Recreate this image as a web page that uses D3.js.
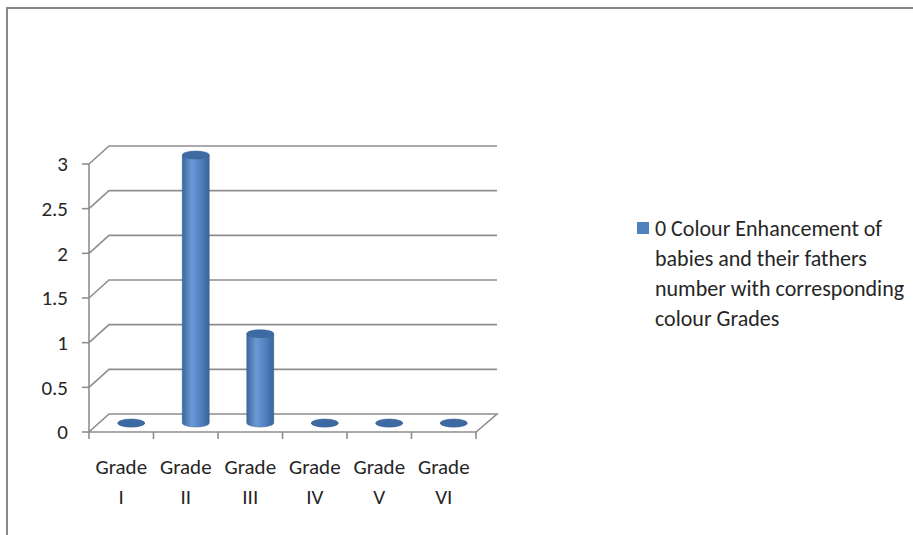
<!DOCTYPE html>
<html>
<head>
<meta charset="utf-8">
<script src="https://cdn.jsdelivr.net/npm/d3@7"></script>
<style>
	body { margin: 0; background: #fff; }
	svg text { font-family: Carlito, "Liberation Sans Narrow", "DejaVu Sans Condensed", sans-serif; fill: #262626; }
</style>
</head>
<body>
<svg width="913" height="535"></svg>
<script>
var grades = ["I", "II", "III", "IV", "V", "VI"]
var values = [0, 3, 1, 0, 0, 0]
var yTicks = [0, 0.5, 1, 1.5, 2, 2.5, 3]
var seriesName = "0 Colour Enhancement of babies and their fathers number with corresponding colour Grades"
var legendLines = ["0 Colour Enhancement of", "babies and their fathers", "number with corresponding", "colour Grades"]

var svg = d3.select("svg")
var depthX = 20, depthY = -18
var gridColor = "#8e8e8e"

// chart frame (only top and left edges show)
svg.append("path")
	.attr("d", "M7,535 L7,8 L913,8")
	.attr("fill", "none")
	.attr("stroke", "#888")
	.attr("stroke-width", 2)

var x = d3.scaleBand()
	.domain(grades)
	.range([89, 476])

var y = d3.scaleLinear()
	.domain([0, 3])
	.range([432, 164])

var defs = svg.append("defs")
var grad = defs.append("linearGradient")
	.attr("id", "cyl")
	.attr("x1", "0%").attr("x2", "100%")
grad.append("stop").attr("offset", "0%").attr("stop-color", "#3b679d")
grad.append("stop").attr("offset", "35%").attr("stop-color", "#6a9ad6")
grad.append("stop").attr("offset", "70%").attr("stop-color", "#4f80bf")
grad.append("stop").attr("offset", "100%").attr("stop-color", "#3a6397")

// back gridlines with side connectors
var grid = svg.append("g").attr("class", "grid")
grid.selectAll("path")
	.data(yTicks.filter(function(t) { return t > 0 }))
	.enter()
	.append("path")
	.attr("d", function(t) {
		var yy = y(t)
		return "M" + x.range()[0] + "," + yy +
			" L" + (x.range()[0] + depthX) + "," + (yy + depthY) +
			" L" + (x.range()[1] + depthX + 1) + "," + (yy + depthY)
	})
	.attr("fill", "none")
	.attr("stroke", gridColor)
	.attr("stroke-width", 1.6)

// floor
var x0 = x.range()[0], x1 = x.range()[1], y0 = y(0)
grid.append("path")
	.attr("d", "M" + x0 + "," + y0 + " L" + x1 + "," + y0 +
		" L" + (x1 + depthX + 1) + "," + (y0 + depthY) +
		" L" + (x0 + depthX) + "," + (y0 + depthY) + " Z")
	.attr("fill", "#fff")
	.attr("stroke", gridColor)
	.attr("stroke-width", 1.6)

// y axis
var yAxis = svg.append("g")
yAxis.append("line")
	.attr("x1", x0).attr("x2", x0)
	.attr("y1", y(3)).attr("y2", y0)
	.attr("stroke", gridColor).attr("stroke-width", 1.6)
yAxis.selectAll("line.tick")
	.data(yTicks)
	.enter()
	.append("line")
	.attr("class", "tick")
	.attr("x1", x0 - 7).attr("x2", x0)
	.attr("y1", function(t) { return y(t) })
	.attr("y2", function(t) { return y(t) })
	.attr("stroke", gridColor).attr("stroke-width", 1.6)
yAxis.selectAll("text")
	.data(yTicks)
	.enter()
	.append("text")
	.attr("x", x0 - 21)
	.attr("y", function(t) { return y(t) })
	.attr("dy", "0.35em")
	.attr("text-anchor", "end")
	.attr("font-size", 21)
	.text(function(t) { return t })

// x axis ticks and labels
var xAxis = svg.append("g")
xAxis.selectAll("line")
	.data(grades.concat(["end"]))
	.enter()
	.append("line")
	.attr("x1", function(g, i) { return x0 + i * x.bandwidth() })
	.attr("x2", function(g, i) { return x0 + i * x.bandwidth() })
	.attr("y1", y0).attr("y2", y0 + 7)
	.attr("stroke", gridColor).attr("stroke-width", 1.6)
var labels = xAxis.selectAll("text")
	.data(grades)
	.enter()
	.append("text")
	.attr("text-anchor", "middle")
	.attr("font-size", 21)
labels.append("tspan")
	.attr("x", function(g) { return x(g) + x.bandwidth() / 2 })
	.attr("y", 474)
	.text("Grade")
labels.append("tspan")
	.attr("x", function(g) { return x(g) + x.bandwidth() / 2 })
	.attr("y", 504)
	.text(function(g) { return g })

// cylinders
var rx = 13.5, ry = 4
var bars = svg.append("g").attr("class", "bars")
	.selectAll("g")
	.data(grades.map(function(g, i) { return { grade: g, value: values[i] } }))
	.enter()
	.append("g")

bars.append("path")
	.attr("d", function(d) {
		var cx = x(d.grade) + x.bandwidth() / 2 + depthX / 2
		var yb = y(0) + depthY / 2
		var yt = y(d.value) + depthY / 2
		return "M" + (cx - rx) + "," + yt +
			" L" + (cx - rx) + "," + yb +
			" A" + rx + "," + ry + " 0 0 0 " + (cx + rx) + "," + yb +
			" L" + (cx + rx) + "," + yt + " Z"
	})
	.attr("fill", "url(#cyl)")
	.attr("stroke", "#3a6397")
	.attr("stroke-width", 0.5)

bars.append("ellipse")
	.attr("cx", function(d) { return x(d.grade) + x.bandwidth() / 2 + depthX / 2 })
	.attr("cy", function(d) { return y(d.value) + depthY / 2 })
	.attr("rx", rx)
	.attr("ry", ry)
	.attr("fill", "#3d6aa3")
	.attr("stroke", "#35608f")
	.attr("stroke-width", 0.5)

// legend
var legend = svg.append("g").attr("class", "legend")
legend.append("rect")
	.attr("x", 637).attr("y", 222)
	.attr("width", 12).attr("height", 12)
	.attr("fill", "#4f81bd")
legend.append("text")
	.attr("font-size", 22)
	.selectAll("tspan")
	.data(legendLines)
	.enter()
	.append("tspan")
	.attr("x", 655)
	.attr("y", function(l, i) { return 236 + i * 30 })
	.text(function(l) { return l })
</script>
</body>
</html>
